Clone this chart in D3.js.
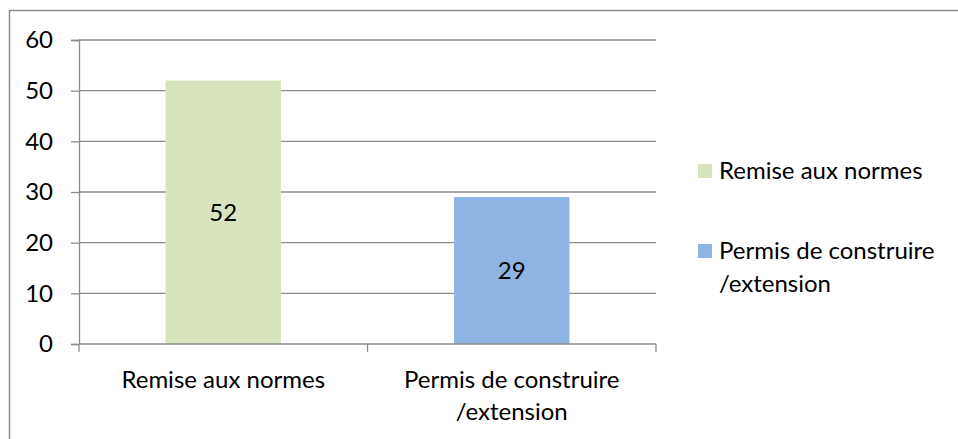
<!DOCTYPE html>
<html>
<head>
<meta charset="utf-8">
<script src="https://cdn.jsdelivr.net/npm/d3@7"></script>
<style>
  body { margin: 0; background: #fff; }
  text { font-family: Lato, "Open Sans", sans-serif; fill: #000; }
</style>
</head>
<body>
<div class="chart-container"></div>
<script>
var categories = ['Remise aux normes', 'Permis de construire\n/extension'];
var values = [52, 29];
var colors = ['#d7e4bd', '#8eb4e3'];
var yTicks = [0, 10, 20, 30, 40, 50, 60];

var margin = { top: 40, left: 79 },
  width = 656 - 79,
  height = 344 - 40,
  fontSize = 24;

var svg = d3.select('.chart-container').append('svg')
  .attr('width', 958)
  .attr('height', 439);

// outer frame (runs off the right/bottom edge)
svg.append('rect')
  .attr('x', 9.5).attr('y', 10.5)
  .attr('width', 960).attr('height', 440)
  .attr('fill', 'none')
  .attr('stroke', '#8c8c8c')
  .attr('stroke-width', 1.5);

var g = svg.append('g')
  .attr('transform', 'translate(' + margin.left + ',' + margin.top + ')');

var x = d3.scaleBand().domain(categories).range([0, width]).paddingInner(0).paddingOuter(0);
var y = d3.scaleLinear().domain([0, 60]).range([height, 0]);
var barW = x.bandwidth() * 0.4;

// grid lines
g.selectAll('.grid')
  .data(yTicks.filter(function (d) { return d > 0; }))
  .enter().append('line')
  .attr('x1', 0).attr('x2', width)
  .attr('y1', function (d) { return y(d); })
  .attr('y2', function (d) { return y(d); })
  .attr('stroke', '#8c8c8c')
  .attr('stroke-width', 1.3);

g.selectAll('.bar')
  .data(values)
  .enter().append('rect')
  .attr('x', function (d, i) { return x(categories[i]) + (x.bandwidth() - barW) / 2; })
  .attr('width', barW)
  .attr('y', function (d) { return y(d); })
  .attr('height', function (d) { return height - y(d); })
  .attr('fill', function (d, i) { return colors[i]; });

g.selectAll('.val')
  .data(values)
  .enter().append('text')
  .attr('x', function (d, i) { return x(categories[i]) + x.bandwidth() / 2; })
  .attr('y', function (d) { return (y(d) + height) / 2; })
  .attr('dy', '0.35em')
  .attr('text-anchor', 'middle')
  .style('font-size', fontSize + 'px')
  .text(function (d) { return d; });

// y axis
var yAxis = g.append('g')
  .call(d3.axisLeft(y).tickValues(yTicks).tickSize(8).tickPadding(18));
yAxis.select('.domain').attr('stroke', '#8c8c8c').attr('stroke-width', 1.3);
yAxis.selectAll('line').attr('stroke', '#8c8c8c').attr('stroke-width', 1.3);
yAxis.selectAll('text').style('font-size', fontSize + 'px').attr('fill', '#000');

// x axis: ticks at band boundaries
var xAxis = g.append('g').attr('transform', 'translate(0,' + height + ')');
xAxis.append('line').attr('x1', 0).attr('x2', width)
  .attr('stroke', '#8c8c8c').attr('stroke-width', 1.3);
xAxis.selectAll('.tick')
  .data(d3.range(categories.length + 1))
  .enter().append('line')
  .attr('x1', function (i) { return i * x.step(); })
  .attr('x2', function (i) { return i * x.step(); })
  .attr('y1', 0).attr('y2', 8)
  .attr('stroke', '#8c8c8c').attr('stroke-width', 1.3);
xAxis.selectAll('.lbl')
  .data(categories)
  .enter().append('text')
  .attr('text-anchor', 'middle')
  .style('font-size', fontSize + 'px')
  .attr('transform', function (d) { return 'translate(' + (x(d) + x.bandwidth() / 2) + ',36)'; })
  .each(function (d) {
    var t = d3.select(this);
    d.split('\n').forEach(function (line, k) {
      t.append('tspan').attr('x', 0).attr('y', k * 32).attr('dy', '0.35em').text(line);
    });
  });

// legend
var legend = svg.append('g').attr('transform', 'translate(698,164)');
var legendY = [0, 80];
categories.forEach(function (c, i) {
  var row = legend.append('g').attr('transform', 'translate(0,' + legendY[i] + ')');
  row.append('rect').attr('width', 14).attr('height', 14).attr('fill', colors[i]);
  var t = row.append('text').style('font-size', fontSize + 'px');
  c.split('\n').forEach(function (line, k) {
    t.append('tspan').attr('x', 21).attr('y', 7 + k * 33).attr('dy', '0.35em').text(line);
  });
});
</script>
</body>
</html>
